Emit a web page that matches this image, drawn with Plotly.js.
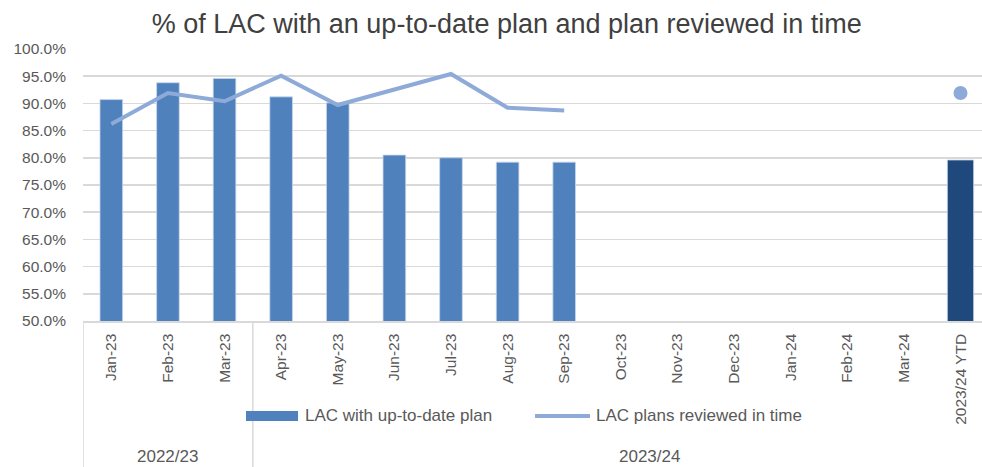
<!DOCTYPE html>
<html><head><meta charset="utf-8">
<script src="https://cdn.plot.ly/plotly-3.0.1.min.js"></script>
<style>html,body{margin:0;padding:0;background:#fff}#chart{width:982px;height:467px}</style>
</head><body><div id="chart"></div>
<script>
const categories = ["Jan-23","Feb-23","Mar-23","Apr-23","May-23","Jun-23","Jul-23","Aug-23","Sep-23","Oct-23","Nov-23","Dec-23","Jan-24","Feb-24","Mar-24","2023/24 YTD"];
const upToDatePlan = [90.7, 93.8, 94.6, 91.2, 90.1, 80.5, 80.0, 79.2, 79.2, null, null, null, null, null, null, 79.6];
const reviewedInTime = [86.2, 91.9, 90.4, 95.1, 89.7, 92.5, 95.4, 89.2, 88.7, null, null, null, null, null, null, null];
const ytdCategory = ["2023/24 YTD"];
const ytdReviewed = [91.9];
const groups = [{label:"2022/23", from:0, to:2}, {label:"2023/24", from:3, to:16}];
const seriesNames = ["LAC with up-to-date plan", "LAC plans reviewed in time"];

const font = "Liberation Sans, Arial, sans-serif";
const grey = "#595959";
const barBlue = "#4f81bd", lineBlue = "#8eaad8";
const barColors = categories.map(c => c === "2023/24 YTD" ? "#1f497d" : barBlue);
const barWidths = categories.map(c => c === "2023/24 YTD" ? 0.465 : 0.40);

const traces = [
  {type:"bar", name:seriesNames[0], x:categories, y:upToDatePlan,
   width:barWidths, marker:{color:barColors, line:{color:"rgba(200,215,235,0.8)", width:1}}},
  {type:"scatter", mode:"lines", name:seriesNames[1], x:categories, y:reviewedInTime,
   line:{color:lineBlue, width:4}, connectgaps:false},
  {type:"scatter", mode:"markers", name:seriesNames[1], x:ytdCategory, y:ytdReviewed,
   marker:{color:lineBlue, size:14}}
];

const shapes = [];
const annotations = [];
[-0.5, 2.5].forEach(d => shapes.push({type:"line", xref:"x", yref:"paper", x0:d, x1:d, y0:0, y1:-0.54, line:{color:"#d9d9d9", width:1.5}}));
groups.forEach(g => {
  annotations.push({xref:"x", yref:"paper", x:(g.from+g.to)/2, y:-0.497, text:g.label,
    showarrow:false, font:{family:font, size:17, color:grey}, xanchor:"center", yanchor:"middle"});
});
// legend (drawn manually to match the wide swatches)
const legY = -0.349;
shapes.push({type:"rect", xref:"paper", yref:"paper", x0:0.1813, x1:0.2392, y0:-0.3676, y1:-0.3309, fillcolor:barBlue, line:{width:0}});
shapes.push({type:"line", xref:"paper", yref:"paper", x0:0.5028, x1:0.5640, y0:legY, y1:legY, line:{color:lineBlue, width:4}});
annotations.push({xref:"paper", yref:"paper", x:0.2447, y:legY, text:seriesNames[0], showarrow:false, xanchor:"left", yanchor:"middle", font:{family:font, size:17, color:grey}});
annotations.push({xref:"paper", yref:"paper", x:0.5684, y:legY, text:seriesNames[1], showarrow:false, xanchor:"left", yanchor:"middle", font:{family:font, size:17, color:grey}});

const layout = {
  width:982, height:467,
  margin:{l:83, r:0, t:49, b:146},
  paper_bgcolor:"#fff", plot_bgcolor:"#fff",
  title:{text:"% of LAC with an up-to-date plan and plan reviewed in time", font:{family:font, size:27, color:"#404040"},
    x:0.516, xref:"container", xanchor:"center", y:0.95, yref:"container", yanchor:"middle"},
  xaxis:{type:"category", categoryorder:"array", categoryarray:categories, range:[-0.5, 15.38],
    tickangle:-90, tickfont:{family:font, size:15.5, color:grey}, showgrid:false, ticks:"",
    showline:true, linecolor:"#d9d9d9", linewidth:1.5, ticklabelstandoff:5},
  yaxis:{range:[50,100], dtick:5, tick0:50, tickformat:".1f", ticksuffix:"%",
    tickfont:{family:font, size:15.5, color:grey}, gridcolor:"#d9d9d9", gridwidth:1.5,
    zeroline:false, showline:false, ticks:"", ticklabelstandoff:16},
  bargap:0.6,
  showlegend:false,
  shapes:shapes, annotations:annotations
};
Plotly.newPlot("chart", traces, layout, {displayModeBar:false, staticPlot:true});
</script></body></html>
